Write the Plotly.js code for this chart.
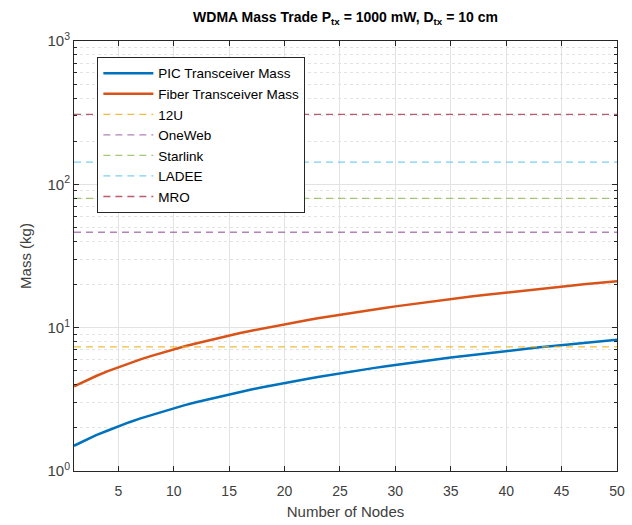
<!DOCTYPE html>
<html>
<head>
<meta charset="utf-8">
<script src="https://cdn.plot.ly/plotly-3.0.1.min.js"></script>
<style>html,body{margin:0;padding:0;background:#fff;}#chart{width:632px;height:525px;}</style>
</head>
<body>
<div id="chart"></div>
<script>
// ---- data ----
const nodes = [1,2,3,4,5,6,7,8,9,10,11,12,13,14,15,16,17,18,19,20,21,22,23,24,25,26,27,28,29,30,31,32,33,34,35,36,37,38,39,40,41,42,43,44,45,46,47,48,49,50];
const picMass = [1.50,1.64,1.78,1.91,2.05,2.19,2.33,2.46,2.60,2.74,2.88,3.02,3.15,3.29,3.43,3.57,3.70,3.84,3.98,4.12,4.26,4.39,4.53,4.67,4.81,4.95,5.08,5.22,5.36,5.50,5.63,5.77,5.91,6.05,6.19,6.32,6.46,6.60,6.74,6.87,7.01,7.15,7.29,7.43,7.56,7.70,7.84,7.98,8.11,8.25];
const fiberMass = [3.90,4.25,4.60,4.95,5.30,5.66,6.01,6.36,6.71,7.06,7.41,7.76,8.11,8.46,8.81,9.17,9.52,9.87,10.22,10.57,10.92,11.27,11.62,11.97,12.32,12.68,13.03,13.38,13.73,14.08,14.43,14.78,15.13,15.48,15.83,16.19,16.54,16.89,17.24,17.59,17.94,18.29,18.64,18.99,19.34,19.70,20.05,20.40,20.75,21.10];
const refNames = ['12U','OneWeb','Starlink','LADEE','MRO'];
const refMass = [7.35, 46.3, 79.8, 143, 308];
const xTickVals = [5,10,15,20,25,30,35,40,45,50];
const yTickVals = [1,10,100,1000];
const yTickText = ['10<sup>0</sup>','10<sup>1</sup>','10<sup>2</sup>','10<sup>3</sup>'];
const yMinorVals = [2,3,4,5,6,7,8,9,20,30,40,50,60,70,80,90,200,300,400,500,600,700,800,900];

// ---- styling ----
const refColors = ['#EDB120','#7E2F8E','#77AC30','#4DBEEE','#A2142F'];
const refOpacity = [0.85,0.6,0.65,0.75,0.7];
const txt = '#262626';
const fam = 'Liberation Sans, Arial, sans-serif';

const traces = [
  {x: nodes, y: picMass, type:'scatter', mode:'lines', name:'PIC Transceiver Mass',
   line:{color:'#0072BD', width:2.5}},
  {x: nodes, y: fiberMass, type:'scatter', mode:'lines', name:'Fiber Transceiver Mass',
   line:{color:'#D95319', width:2.5}}
];
refNames.forEach((n,i)=>{
  traces.push({x:[nodes[0], nodes[nodes.length-1]], y:[refMass[i], refMass[i]],
    type:'scatter', mode:'lines', name:n, opacity: refOpacity[i],
    line:{color:refColors[i], width:1.3, dash:'7px,5px'}});
});

const axisCommon = {
  showline:true, linecolor:txt, linewidth:1, mirror:'ticks',
  ticks:'inside', ticklen:5, tickcolor:txt,
  tickfont:{family:fam, size:14, color:'#404040'},
  gridcolor:'#e3e3e3', gridwidth:1, zeroline:false
};

const layout = {
  width:632, height:525,
  margin:{l:74, r:15, t:41, b:54},
  paper_bgcolor:'#fff', plot_bgcolor:'#fff',
  font:{family:fam, color:txt},
  title:{text:'<b>WDMA Mass Trade P<sub>tx</sub> = 1000 mW, D<sub>tx</sub> = 10 cm</b>',
    font:{size:14, color:'#000'}, xref:'paper', x:0.5, xanchor:'center',
    yref:'container', y:0.968, yanchor:'middle'},
  xaxis: Object.assign({}, axisCommon, {
    range:[1,50], tickmode:'array', tickvals:xTickVals, ticklabelstandoff:7,
    title:{text:'Number of Nodes', font:{size:15, color:'#404040'}, standoff:8}
  }),
  yaxis: Object.assign({}, axisCommon, {
    type:'log', range:[0,3], tickmode:'array', tickvals:yTickVals, ticktext:yTickText,
    tickfont:{family:fam, size:15, color:'#404040'},
    title:{text:'Mass (kg)', font:{size:15, color:'#404040'}, standoff:12},
    minor:{tickmode:'array', tickvals:yMinorVals, showgrid:true, gridcolor:'#e3e3e3',
      griddash:'dot', gridwidth:1, ticks:'inside', ticklen:3, tickcolor:txt}
  }),
  legend:{x:0.043, y:0.963, xanchor:'left', yanchor:'top',
    bgcolor:'#fff', bordercolor:txt, borderwidth:1,
    font:{size:13.5, color:'#000'}, itemwidth:50, tracegroupgap:0},
  showlegend:true
};

Plotly.newPlot('chart', traces, layout, {displayModeBar:false, staticPlot:true});
</script>
</body>
</html>
